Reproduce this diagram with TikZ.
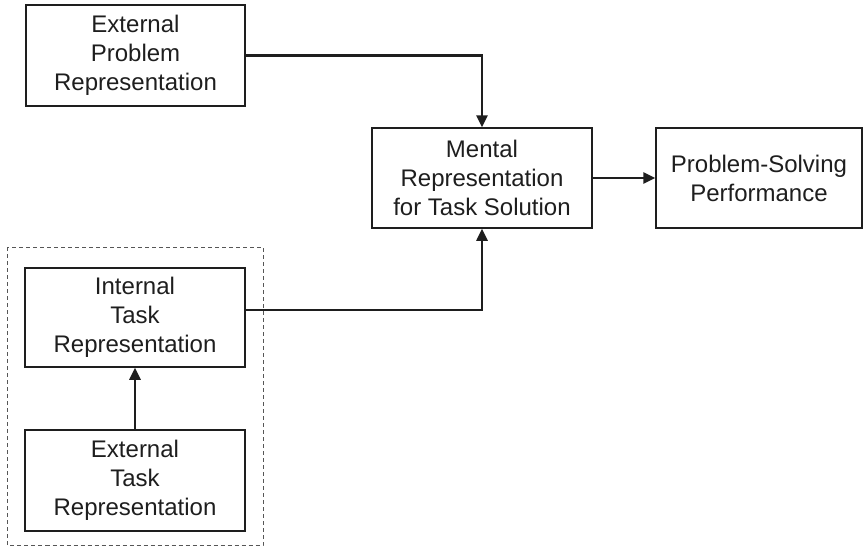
\documentclass[tikz,border=0pt]{standalone}
\usepackage{fontspec}
\setmainfont{Liberation Sans}
\usetikzlibrary{arrows.meta}
\definecolor{ink}{HTML}{1E1E1E}
\begin{document}
\begin{tikzpicture}[x=1pt,y=-1pt,
  box/.style={draw=ink,line width=1.5pt,rectangle,align=center,
    inner sep=0pt,text=ink,font=\fontsize{24}{29}\selectfont},
  conn/.style={draw=ink,line width=2.5pt,-{Triangle[length=12pt,width=11pt]}},
  group/.style={draw=ink!75,line width=1pt,dash pattern=on 4pt off 3pt}]
\useasboundingbox (0,0) rectangle (863,547);
% grouping frame around the task representations
\draw[group] (7.5,247) rectangle (263,545);
% boxes
\node[box,minimum width=219pt,minimum height=101pt] (ep) at (135.5,55.5)
  {External\\Problem\\Representation};
\node[box,minimum width=220pt,minimum height=100pt] (m) at (482,178)
  {Mental\\Representation\\for Task Solution};
\node[box,minimum width=206pt,minimum height=100pt] (p) at (759,178)
  {Problem-Solving\\Performance};
\node[box,minimum width=220pt,minimum height=99pt] (it) at (135,317.5)
  {Internal\\Task\\Representation};
\node[box,minimum width=220pt,minimum height=101pt] (et) at (135,480.5)
  {External\\Task\\Representation};
% connectors
\draw[conn] (ep.east) -| (m.north);
\draw[conn] (it.east) ++(0,-7.5) -| (m.south);
\draw[conn] (m.east) -- (p.west);
\draw[conn] (et.north) -- (it.south);
\end{tikzpicture}
\end{document}
